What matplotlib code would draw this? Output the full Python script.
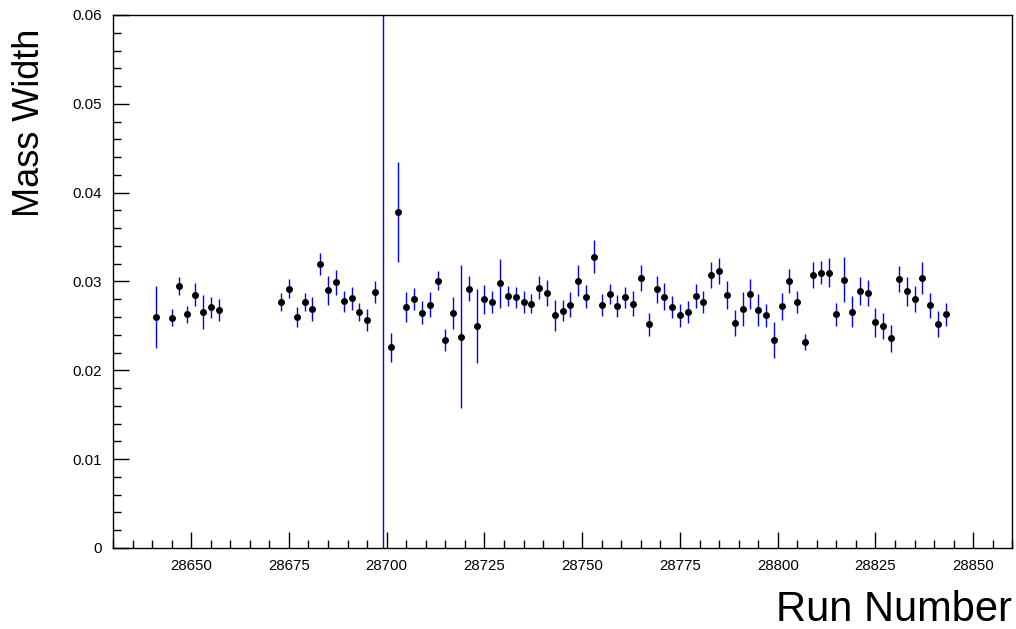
import matplotlib
matplotlib.use("Agg")
import matplotlib.pyplot as plt
from matplotlib.ticker import MultipleLocator, FixedLocator

plt.rcParams['font.family'] = ['Liberation Sans', 'DejaVu Sans']

runs = [28641, 28645, 28647, 28649, 28651, 28653, 28655, 28657,
        28673, 28675, 28677, 28679, 28681, 28683, 28685, 28687, 28689, 28691,
        28693, 28695, 28697, 28699, 28701, 28703, 28705, 28707, 28709, 28711,
        28713, 28715, 28717, 28719, 28721, 28723, 28725, 28727, 28729, 28731,
        28733, 28735, 28737, 28739, 28741, 28743, 28745, 28747, 28749, 28751,
        28753, 28755, 28757, 28759, 28761, 28763, 28765, 28767, 28769, 28771,
        28773, 28775, 28777, 28779, 28781, 28783, 28785, 28787, 28789, 28791,
        28793, 28795, 28797, 28799, 28801, 28803, 28805, 28807, 28809, 28811,
        28813, 28815, 28817, 28819, 28821, 28823, 28825, 28827, 28829, 28831,
        28833, 28835, 28837, 28839, 28841, 28843]

width = [0.0260, 0.0259, 0.0295, 0.0263, 0.0285, 0.0266, 0.0271, 0.0268,
         0.0277, 0.0292, 0.0260, 0.0277, 0.0269, 0.0320, 0.0290, 0.0299, 0.0278, 0.0281,
         0.0266, 0.0257, 0.0288, 0.0800, 0.0226, 0.0378, 0.0271, 0.0280, 0.0265, 0.0274,
         0.0301, 0.0234, 0.0265, 0.0238, 0.0292, 0.0250, 0.0280, 0.0277, 0.0298, 0.0284,
         0.0282, 0.0277, 0.0275, 0.0293, 0.0287, 0.0262, 0.0267, 0.0274, 0.0301, 0.0283,
         0.0328, 0.0274, 0.0286, 0.0272, 0.0282, 0.0275, 0.0304, 0.0252, 0.0291, 0.0283,
         0.0271, 0.0262, 0.0266, 0.0284, 0.0277, 0.0307, 0.0312, 0.0285, 0.0253, 0.0269,
         0.0286, 0.0268, 0.0262, 0.0234, 0.0272, 0.0301, 0.0277, 0.0232, 0.0307, 0.0310,
         0.0310, 0.0263, 0.0302, 0.0266, 0.0289, 0.0287, 0.0254, 0.0250, 0.0236, 0.0303,
         0.0289, 0.0280, 0.0304, 0.0273, 0.0252, 0.0263]

error = [0.00352, 0.00096, 0.00101, 0.00094, 0.0013, 0.0019, 0.0012, 0.0012,
         0.00105, 0.00105, 0.00116, 0.00101, 0.00139, 0.00122, 0.00161, 0.00137, 0.00118, 0.00128,
         0.0010, 0.00124, 0.00122, 0.1000, 0.00163, 0.0056, 0.0017, 0.00126, 0.00128, 0.00137,
         0.0011, 0.00126, 0.0018, 0.0080, 0.00139, 0.0042, 0.00161, 0.00124, 0.00278, 0.00114,
         0.00122, 0.00122, 0.0011, 0.00131, 0.00143, 0.00173, 0.0012, 0.00143, 0.0017, 0.00133,
         0.00186, 0.00124, 0.00116, 0.00124, 0.00113, 0.00139, 0.00143, 0.0013, 0.0015, 0.0015,
         0.00124, 0.00131, 0.00124, 0.00137, 0.0012, 0.00148, 0.00146, 0.00156, 0.00145, 0.0019,
         0.00165, 0.00178, 0.00128, 0.0020, 0.0015, 0.00135, 0.00128, 0.0009, 0.00146, 0.00133,
         0.00163, 0.0013, 0.0025, 0.00178, 0.00156, 0.00146, 0.0016, 0.00145, 0.0015, 0.00145,
         0.00165, 0.00146, 0.00184, 0.0014, 0.00143, 0.0013]

x_ticks = [28650, 28675, 28700, 28725, 28750, 28775, 28800, 28825, 28850]
y_ticks = [0, 0.01, 0.02, 0.03, 0.04, 0.05, 0.06]
y_tick_labels = ['0', '0.01', '0.02', '0.03', '0.04', '0.05', '0.06']

fig = plt.figure(figsize=(10.16, 6.29), dpi=100)
ax = fig.add_axes([0.1112, 0.1288, 0.8852, 0.8474])

ax.errorbar(runs, width, yerr=error, fmt='o', color='black', markersize=4.0,
            ecolor='#0000ff', elinewidth=1.0, capsize=0)

ax.set_xlim(28630, 28860)
ax.set_ylim(0, 0.06)
ax.xaxis.set_major_locator(FixedLocator(x_ticks))
ax.xaxis.set_minor_locator(MultipleLocator(5))
ax.yaxis.set_major_locator(FixedLocator(y_ticks))
ax.set_yticklabels(y_tick_labels)
ax.yaxis.set_minor_locator(MultipleLocator(0.002))

ax.tick_params(which='both', direction='in', top=False, right=False, width=1.0, colors='black')
ax.tick_params(which='major', length=11.5, labelsize=10.8)
ax.tick_params(which='minor', length=5.8)
ax.tick_params(axis='x', which='major', pad=8)
ax.tick_params(axis='y', which='major', pad=8)
for s in ax.spines.values():
    s.set_linewidth(1.0)

fig.text(0.9964, 0.013, 'Run Number', ha='right', va='baseline', fontsize=30)
fig.text(0.012, 0.955, 'Mass Width', ha='left', va='top', rotation=90, fontsize=26)

fig.savefig('out.png', dpi=100)
